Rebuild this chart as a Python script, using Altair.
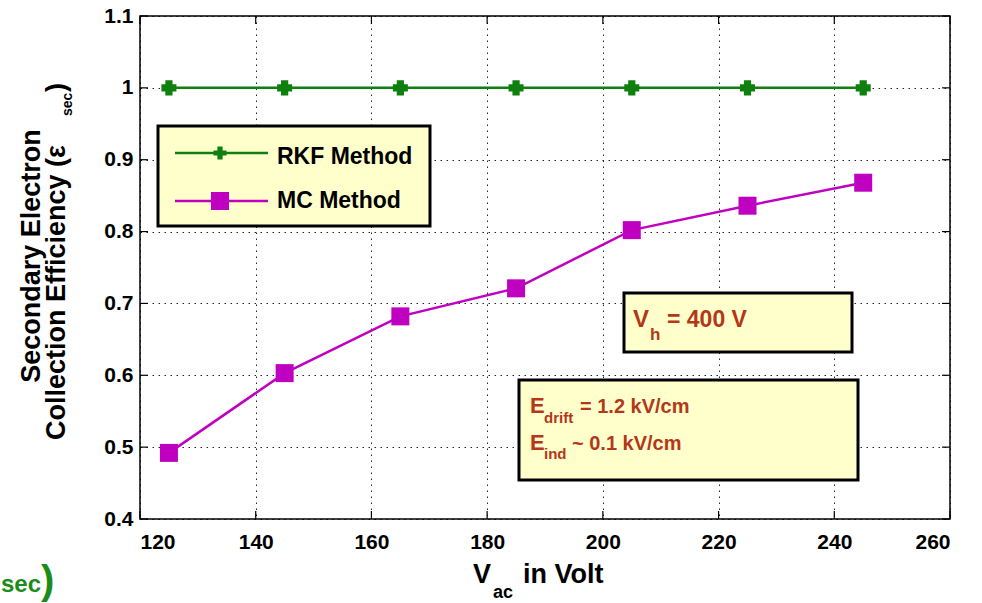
import altair as alt
import pandas as pd

# Accelerating voltage (V) and secondary electron collection efficiency
vac = [125, 145, 165, 185, 205, 225, 245]
rkf_eff = [1.0, 1.0, 1.0, 1.0, 1.0, 1.0, 1.0]
mc_eff = [0.492, 0.603, 0.682, 0.721, 0.802, 0.836, 0.868]

series_names = ["RKF Method", "MC Method"]
series_colors = ["#0f800f", "#c000c0"]

x_ticks = [120, 140, 160, 180, 200, 220, 240, 260]
y_ticks = [0.4, 0.5, 0.6, 0.7, 0.8, 0.9, 1.0, 1.1]

FONT = "Liberation Sans, Arial"
NOTE_RED = "#b4371a"
BOX_FILL = "#ffffcc"

W, H = 810, 503

df = pd.DataFrame(
    {
        "vac": vac * 2,
        "eff": rkf_eff + mc_eff,
        "series": [series_names[0]] * len(vac) + [series_names[1]] * len(vac),
    }
)

xs = alt.Scale(domain=[120, 260], nice=False, zero=False)
ys = alt.Scale(domain=[0.4, 1.1], nice=False, zero=False)
col = alt.Scale(domain=series_names, range=series_colors)

one = pd.DataFrame({"k": [0]})

axis_style = dict(
    title=None,
    grid=True,
    tickSize=0,
    domain=False,
    labelFont=FONT,
    labelFontSize=21,
    labelFontWeight="bold",
    labelColor="#000",
    gridColor="#000",
    gridDash=[1.5, 4.5],
    gridOpacity=0.85,
)

base = alt.Chart(df).encode(
    x=alt.X("vac:Q", scale=xs, axis=alt.Axis(values=x_ticks, labelPadding=12, **axis_style)),
    y=alt.Y("eff:Q", scale=ys,
            axis=alt.Axis(values=y_ticks, format=".1~f", labelPadding=7, **axis_style)),
    color=alt.Color("series:N", scale=col, legend=None),
)

lines = base.mark_line(strokeWidth=2.5)

rkf_pts = base.transform_filter(alt.datum.series == series_names[0]).mark_point(
    shape="cross", size=170, filled=True, opacity=1, strokeWidth=2
).encode(stroke=alt.Color("series:N", scale=col, legend=None))

mc_pts = base.transform_filter(alt.datum.series == series_names[1]).mark_square(
    size=324, opacity=1
)

# Inward tick marks on all four sides
xt = pd.DataFrame({"v": x_ticks})
yt = pd.DataFrame({"v": y_ticks})
tick_bottom = alt.Chart(xt).mark_rule(color="#000", strokeWidth=1.2).encode(
    x=alt.X("v:Q", scale=xs), y=alt.value(H), y2=alt.value(H - 8)
)
tick_top = alt.Chart(xt).mark_rule(color="#000", strokeWidth=1.2).encode(
    x=alt.X("v:Q", scale=xs), y=alt.value(0), y2=alt.value(8)
)
tick_left = alt.Chart(yt).mark_rule(color="#000", strokeWidth=1.2).encode(
    y=alt.Y("v:Q", scale=ys), x=alt.value(0), x2=alt.value(8)
)
tick_right = alt.Chart(yt).mark_rule(color="#000", strokeWidth=1.2).encode(
    y=alt.Y("v:Q", scale=ys), x=alt.value(W), x2=alt.value(W - 8)
)


def box(x0, y0, x1, y1):
    return alt.Chart(one).mark_rect(
        fill=BOX_FILL, stroke="#000", strokeWidth=3
    ).encode(x=alt.value(x0), x2=alt.value(x1), y=alt.value(y0), y2=alt.value(y1))


def label(txt, x, y, size, color="#000", align="left", angle=0):
    return alt.Chart(one).mark_text(
        text=txt, font=FONT, fontSize=size, fontWeight="bold", color=color,
        align=align, baseline="alphabetic", angle=angle,
    ).encode(x=alt.value(x), y=alt.value(y))


# Legend
legend_box = box(18, 110, 290, 210)
leg_rkf_line = alt.Chart(one).mark_rule(color=series_colors[0], strokeWidth=2.5).encode(
    x=alt.value(35), x2=alt.value(128), y=alt.value(137)
)
leg_rkf_pt = alt.Chart(one).mark_point(
    shape="cross", size=170, filled=True, opacity=1, color=series_colors[0], strokeWidth=2
).encode(x=alt.value(80), y=alt.value(137))
leg_mc_line = alt.Chart(one).mark_rule(color=series_colors[1], strokeWidth=2.5).encode(
    x=alt.value(35), x2=alt.value(128), y=alt.value(185)
)
leg_mc_pt = alt.Chart(one).mark_square(size=324, opacity=1, color=series_colors[1]).encode(
    x=alt.value(80), y=alt.value(185)
)
leg_rkf_txt = label(series_names[0], 137, 148, 23)
leg_mc_txt = label(series_names[1], 137, 192, 23)

# Annotation boxes
vh_box = box(484, 277, 712, 336)
vh_V = label("V", 493, 311, 24, NOTE_RED)
vh_h = label("h", 510, 324, 17, NOTE_RED)
vh_rest = label("= 400 V", 527, 311, 23, NOTE_RED)

e_box = box(379, 364, 718, 464)
e1_E = label("E", 390, 397, 22, NOTE_RED)
e1_sub = label("drift", 404, 407, 15, NOTE_RED)
e1_rest = label("= 1.2 kV/cm", 440, 397, 20, NOTE_RED)
e2_E = label("E", 390, 434, 22, NOTE_RED)
e2_sub = label("ind", 404, 443, 15, NOTE_RED)
e2_rest = label("~ 0.1 kV/cm", 432, 434, 20, NOTE_RED)

# Axis titles with subscripts
xt_V = label("V", 333, 567, 27)
xt_sub = label("ac", 353, 582, 18)
xt_rest = label("in Volt", 383, 567, 27)

yt_line1 = label("Secondary Electron", -100, 240, 27, align="center", angle=270)
yt_line2 = label("Collection Efficiency (\u03b5", -75, 424, 27, align="left", angle=270)
yt_sub = label("sec", -68, 100, 14, align="left", angle=270)
yt_close = label(")", -75, 76, 27, align="left", angle=270)

# Green subscript fragment at the lower-left corner
stray_sec = label("sec", -139, 576, 24, color="#1a8c1a", align="left")
stray_paren = label(")", -99, 578, 40, color="#1a8c1a", align="left")

chart = alt.layer(
    lines, rkf_pts, mc_pts,
    tick_bottom, tick_top, tick_left, tick_right,
    legend_box, leg_rkf_line, leg_rkf_pt, leg_mc_line, leg_mc_pt, leg_rkf_txt, leg_mc_txt,
    vh_box, vh_V, vh_h, vh_rest,
    e_box, e1_E, e1_sub, e1_rest, e2_E, e2_sub, e2_rest,
    xt_V, xt_sub, xt_rest,
    yt_line1, yt_line2, yt_sub, yt_close,
    stray_sec, stray_paren,
).properties(
    width=W,
    height=H,
    autosize=alt.AutoSizeParams(type="none"),
    padding={"left": 140, "top": 16, "right": 32, "bottom": 84},
    background="white",
).configure_view(
    stroke="#000", strokeWidth=1.5
)

chart.save("out.html", embed_options={"renderer": "svg", "actions": False})
